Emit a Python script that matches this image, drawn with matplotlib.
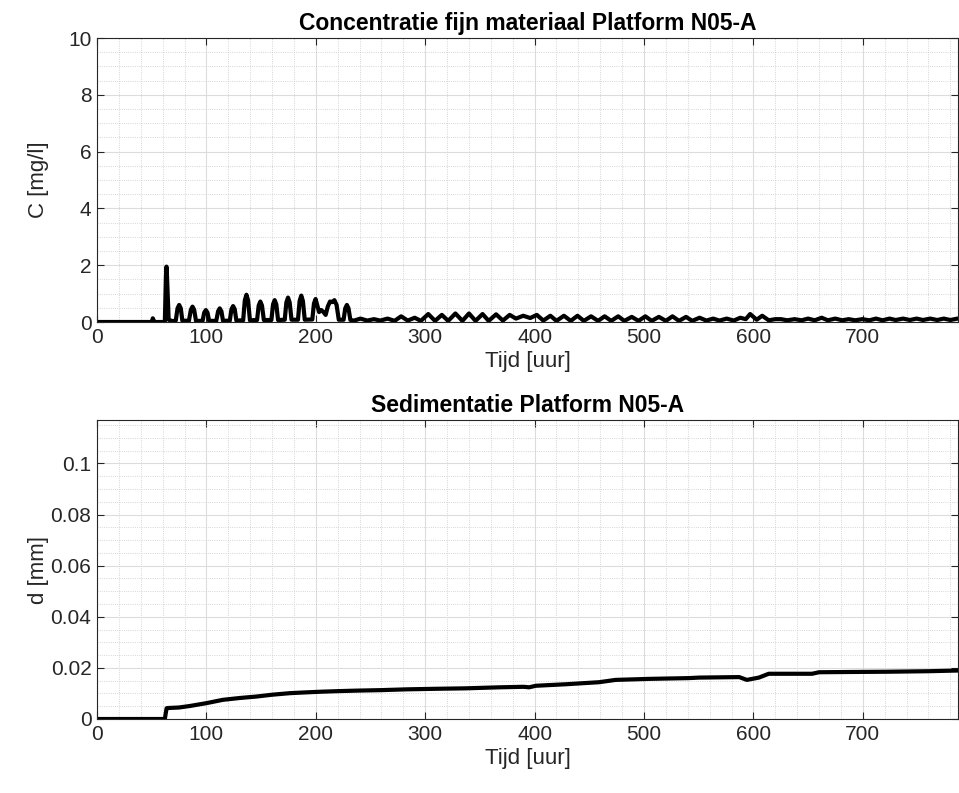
import matplotlib
matplotlib.use("Agg")
import matplotlib.pyplot as plt
import numpy as np
from matplotlib.ticker import MultipleLocator

plt.rcParams['font.family'] = ['Liberation Sans', 'DejaVu Sans']

# ---- data: concentration (top) ----
conc_t = [0, 50, 51, 52.5, 62, 63.0, 63.5, 64.0, 65.5, 69,
          72, 73.6, 75.1, 76.6, 78, 84, 85.8, 87.3, 88.8, 90.5,
          96.5, 98, 99.5, 101, 102.5, 109, 110.7, 112.2, 113.7, 115.2,
          121.4, 122.9, 124.4, 125.9, 127.4, 133.6, 135.1, 136.6, 138.1, 139.8,
          146.3, 147.8, 149.3, 150.8, 152.5, 159.4, 160.9, 162.4, 163.9, 165.5,
          171.6, 173.1, 174.6, 176.1, 177.8, 183.7, 185.2, 186.7, 188.2, 189.9,
          196.8, 198.3, 199.8, 201.3, 203, 205, 207, 209,
          211, 213, 215, 217, 219, 221, 225.4, 226.9, 228.4, 229.9, 231.6, 235,
          240.8, 247, 253.2, 259, 265.6, 272, 278.0, 284, 290.4, 296, 302.8, 309,
          315.2, 321, 327.6, 334, 340.0, 346, 352.4, 358, 364.8, 371, 377.2, 383,
          389.6, 396, 402.0, 408, 414.4, 420, 426.8, 433, 439.2, 445, 451.6, 458,
          464.0, 470, 476.4, 482, 488.8, 495, 501.2, 507, 513.6, 520, 526.0, 532,
          538.4, 544, 550.8, 557, 563.2, 569, 575.6, 582, 588.0, 593, 597, 603,
          608, 614, 620, 625.2, 631, 637.6, 644, 650.0, 656, 662.4, 668, 674.8, 681,
          687.2, 693, 699.6, 706, 712.0, 718, 724.4, 730, 736.8, 743, 749.2, 755,
          761.6, 768, 774.0, 780, 786.4, 790]
conc_c = [0, 0, 0.13, 0, 0, 1.6, 1.95, 1.6, 0.08, 0.03,
          0.05, 0.48, 0.60, 0.48, 0.05, 0.04, 0.43, 0.54, 0.43, 0.04,
          0.04, 0.33, 0.42, 0.33, 0.04, 0.04, 0.38, 0.48, 0.38, 0.04,
          0.05, 0.45, 0.56, 0.45, 0.05, 0.06, 0.76, 0.96, 0.76, 0.06,
          0.07, 0.58, 0.72, 0.58, 0.07, 0.07, 0.62, 0.77, 0.62, 0.07,
          0.08, 0.69, 0.86, 0.69, 0.08, 0.08, 0.74, 0.93, 0.74, 0.08,
          0.09, 0.65, 0.81, 0.60, 0.35, 0.42, 0.35, 0.25,
          0.55, 0.72, 0.70, 0.77, 0.60, 0.08, 0.08, 0.48, 0.60, 0.48, 0.07, 0.05,
          0.12, 0.05, 0.10, 0.05, 0.12, 0.04, 0.20, 0.05, 0.15, 0.04, 0.28, 0.04,
          0.25, 0.04, 0.30, 0.04, 0.30, 0.04, 0.28, 0.04, 0.27, 0.05, 0.25, 0.12,
          0.22, 0.14, 0.25, 0.05, 0.22, 0.04, 0.22, 0.04, 0.22, 0.04, 0.20, 0.04,
          0.20, 0.04, 0.20, 0.04, 0.18, 0.04, 0.20, 0.04, 0.18, 0.04, 0.20, 0.04,
          0.18, 0.04, 0.15, 0.05, 0.12, 0.05, 0.12, 0.05, 0.15, 0.10, 0.28, 0.08,
          0.22, 0.06, 0.10, 0.10, 0.06, 0.10, 0.06, 0.12, 0.06, 0.15, 0.06, 0.12, 0.06,
          0.10, 0.06, 0.10, 0.06, 0.12, 0.06, 0.12, 0.07, 0.12, 0.07, 0.12, 0.07,
          0.12, 0.07, 0.12, 0.07, 0.12, 0.10]

# ---- data: sedimentation (bottom) ----
sed_t = [0, 62, 63.6, 65, 75, 85, 100, 115, 130, 146, 160, 176, 190, 206, 220,
         237, 260, 282.6, 307, 337, 368, 390, 395, 401, 428.6, 459, 474, 504.6,
         541, 550, 587, 594, 605, 614, 653.6, 660, 690, 723.5, 760, 790]
sed_d = [0, 0, 0.0042, 0.0043, 0.0045, 0.0051, 0.0062, 0.0075, 0.0082, 0.0088,
         0.0095, 0.0101, 0.0104, 0.0107, 0.0109, 0.0111, 0.0113, 0.0116, 0.0118,
         0.0120, 0.0124, 0.0126, 0.0124, 0.0130, 0.0136, 0.0144, 0.0153, 0.0157,
         0.0160, 0.0162, 0.0164, 0.0153, 0.0162, 0.0177, 0.0177, 0.0183, 0.0184,
         0.0185, 0.0187, 0.0190]

x_max = 787

W, H = 959, 793
fig = plt.figure(figsize=(W / 100, H / 100), dpi=100)

def pos(l, t, r, b):
    return [l / W, 1 - b / H, (r - l) / W, (b - t) / H]

ax1 = fig.add_axes(pos(97, 38, 958, 322))
ax2 = fig.add_axes(pos(97, 420, 958, 719))

fs = 15
tc = '#262626'

def style(ax):
    ax.set_xlim(0, x_max)
    ax.xaxis.set_major_locator(MultipleLocator(100))
    ax.xaxis.set_minor_locator(MultipleLocator(20))
    ax.grid(which='major', color='#dcdcdc', linewidth=0.8, linestyle='-')
    ax.grid(which='minor', color='#c8c8c8', linewidth=0.6, linestyle=':')
    ax.set_axisbelow(True)
    ax.tick_params(which='both', direction='in', top=True, right=True,
                   labelsize=fs, colors=tc, pad=4)
    ax.tick_params(which='major', length=5, width=0.8)
    ax.tick_params(which='minor', length=0)
    for s in ax.spines.values():
        s.set_color(tc)
        s.set_linewidth(0.8)
    ax.set_xlabel('Tijd [uur]', fontsize=fs + 1, color=tc, labelpad=3)
    ax.yaxis.set_label_coords(-0.056, 0.5)

ax1.plot(conc_t, conc_c, color='black', linewidth=3.0, solid_joinstyle='round')
style(ax1)
ax1.set_ylim(0, 10)
ax1.yaxis.set_major_locator(MultipleLocator(2))
ax1.yaxis.set_minor_locator(MultipleLocator(0.5))
ax1.set_ylabel('C [mg/l]', fontsize=fs + 1, color=tc)
ax1.set_title('Concentratie fijn materiaal Platform N05-A', fontsize=fs + 1.5,
              fontweight='bold', pad=6)

ax2.plot(sed_t, sed_d, color='black', linewidth=3.0, solid_joinstyle='round')
style(ax2)
ax2.set_ylim(0, 0.117)
ax2.set_yticks([0, 0.02, 0.04, 0.06, 0.08, 0.1])
ax2.set_yticklabels(['0', '0.02', '0.04', '0.06', '0.08', '0.1'])
ax2.yaxis.set_minor_locator(MultipleLocator(0.005))
ax2.set_ylabel('d [mm]', fontsize=fs + 1, color=tc)
ax2.set_title('Sedimentatie Platform N05-A', fontsize=fs + 1.5, fontweight='bold', pad=6)

fig.savefig('out.png', dpi=100)
